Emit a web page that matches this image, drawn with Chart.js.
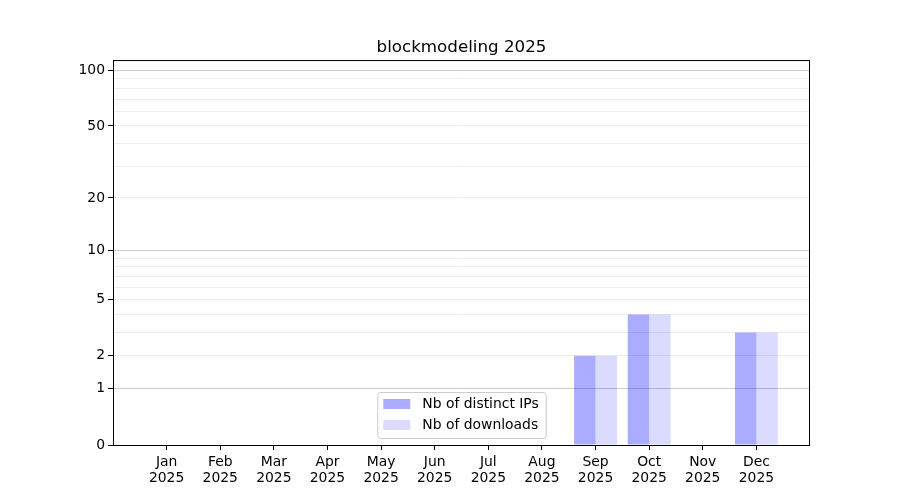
<!DOCTYPE html>
<html>
<head>
<meta charset="utf-8">
<script src="https://cdn.jsdelivr.net/npm/chart.js@4/dist/chart.umd.min.js"></script>
<style>
  body { margin: 0; background: #fff; }
</style>
</head>
<body>
<canvas id="barchart" width="900" height="500"></canvas>
<script>
const months = ["Jan", "Feb", "Mar", "Apr", "May", "Jun", "Jul", "Aug", "Sep", "Oct", "Nov", "Dec"];
const year = "2025";
const distinctIPs = [0, 0, 0, 0, 0, 0, 0, 0, 2, 4, 0, 3];
const downloads = [0, 0, 0, 0, 0, 0, 0, 0, 2, 4, 0, 3];
const yTickLabels = [0, 1, 2, 5, 10, 20, 50, 100];
const yMinorTicks = [3, 4, 6, 7, 8, 9, 30, 40, 60, 70, 80, 90];
const yDarkGrid = [1, 10, 100];
const yTop = 113.8;

// the y axis is log(1 + v)
function tr(v) { return Math.log10(1 + v); }
function untr(t) { return Math.round(Math.pow(10, t) - 1); }

const allYTicks = yTickLabels.concat(yMinorTicks).sort((a, b) => a - b);

// one empty slot each side so the months sit a full step away from the frame
const labels = [""].concat(months.map(m => [m, year]), [""]);
const pad = arr => [null].concat(arr.map(tr), [null]);

const frameAndLegend = {
    id: "frameAndLegend",
    afterDraw(chart) {
        const ctx = chart.ctx;
        const a = chart.chartArea;
        ctx.save();
        ctx.strokeStyle = "#000";
        ctx.lineWidth = 1;
        ctx.strokeRect(a.left + 0.5, a.top + 0.5, a.right - a.left - 1, a.bottom - a.top);

        // legend, lower center inside the plot
        ctx.font = "13.9px 'DejaVu Sans'";
        const sets = chart.data.datasets;
        let textW = 0;
        sets.forEach(d => { textW = Math.max(textW, ctx.measureText(d.label).width); });
        const w = 6 + 27 + 12 + textW + 7;
        const h = 46;
        const x0 = (a.left + a.right) / 2 - w / 2;
        const y0 = a.bottom - 7 - h;
        ctx.beginPath();
        ctx.roundRect(x0 + 0.5, y0 + 0.5, w, h, 3);
        ctx.fillStyle = "rgba(255,255,255,0.8)";
        ctx.fill();
        ctx.strokeStyle = "#cccccc";
        ctx.stroke();
        ctx.textBaseline = "middle";
        sets.forEach((d, i) => {
            const cy = y0 + 12 + i * 21;
            ctx.fillStyle = d.backgroundColor;
            ctx.fillRect(x0 + 6, cy - 5, 27, 10);
            ctx.fillStyle = "#000";
            ctx.fillText(d.label, x0 + 45, cy);
        });
        ctx.restore();
    }
};

Chart.defaults.font.family = "'DejaVu Sans'";
Chart.defaults.color = "#000";

new Chart(document.getElementById("barchart"), {
    type: "bar",
    data: {
        labels: labels,
        datasets: [
            {
                label: "Nb of distinct IPs",
                data: pad(distinctIPs),
                backgroundColor: "rgba(0,0,255,0.33)",
                borderWidth: 0,
            },
            {
                label: "Nb of downloads",
                data: pad(downloads),
                backgroundColor: "rgba(0,0,255,0.14)",
                borderWidth: 0,
            },
        ],
    },
    options: {
        responsive: false,
        animation: false,
        devicePixelRatio: 1,
        categoryPercentage: 0.8,
        barPercentage: 1.0,
        layout: { padding: { left: 0, right: 90, top: 0, bottom: 0 } },
        scales: {
            x: {
                offset: false,
                border: { display: false },
                grid: {
                    offset: false,
                    drawOnChartArea: false,
                    tickLength: 5,
                    tickColor: c => (c.index === 0 || c.index === labels.length - 1) ? "transparent" : "#000",
                },
                ticks: {
                    autoSkip: false,
                    maxRotation: 0,
                    padding: 4,
                    font: { size: 13.9, lineHeight: 1.15 },
                },
                afterFit: scale => { scale.height = 55; },
            },
            y: {
                min: 0,
                max: tr(yTop),
                border: { display: false },
                afterBuildTicks: axis => {
                    axis.ticks = allYTicks.map(v => ({ value: tr(v) }));
                },
                grid: {
                    tickLength: 5,
                    color: c => yDarkGrid.includes(untr(c.tick.value)) ? "#cccccc" : "#eeeeee",
                    tickColor: c => yTickLabels.includes(untr(c.tick.value)) ? "#000" : "transparent",
                },
                ticks: {
                    autoSkip: false,
                    padding: 3,
                    font: { size: 13.9 },
                    callback: function (value) {
                        const v = untr(value);
                        return yTickLabels.includes(v) ? String(v) : "";
                    },
                },
                afterFit: scale => { scale.width = 113; },
            },
        },
        plugins: {
            legend: { display: false },
            tooltip: { enabled: false },
            title: {
                display: true,
                fullSize: false,
                text: "blockmodeling 2025",
                font: { size: 16.7, weight: "normal", lineHeight: 1.2 },
                padding: { top: 38, bottom: 2 },
            },
        },
    },
    plugins: [frameAndLegend],
});
</script>
</body>
</html>
